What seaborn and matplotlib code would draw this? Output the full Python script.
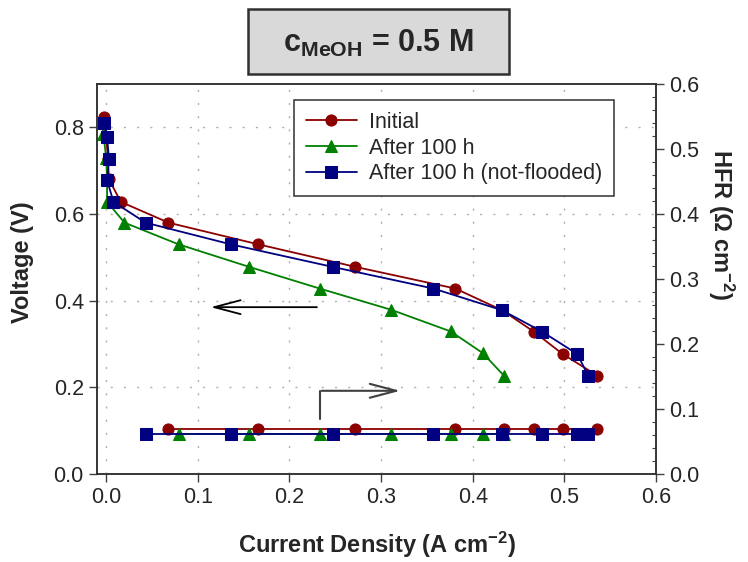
import matplotlib
matplotlib.use("Agg")
import matplotlib.pyplot as plt
import matplotlib.patches as patches
import seaborn as sns

# Polarization curves (left axis, V)
init_j = [-0.002, 0.002, 0.003, 0.016, 0.068, 0.166, 0.272, 0.381, 0.432, 0.467, 0.498, 0.536]
init_v = [0.825, 0.728, 0.680, 0.628, 0.580, 0.530, 0.478, 0.428, 0.378, 0.328, 0.277, 0.227]

aged_j = [-0.003, 0.000, 0.001, 0.001, 0.020, 0.079, 0.156, 0.233, 0.311, 0.376, 0.411, 0.434]
aged_v = [0.784, 0.730, 0.680, 0.628, 0.580, 0.530, 0.478, 0.428, 0.379, 0.329, 0.279, 0.227]

nf_j = [-0.002, 0.001, 0.003, 0.001, 0.008, 0.043, 0.136, 0.247, 0.357, 0.432, 0.476, 0.514, 0.526]
nf_v = [0.811, 0.778, 0.728, 0.678, 0.628, 0.580, 0.530, 0.478, 0.428, 0.378, 0.328, 0.277, 0.227]

# HFR (right axis, Ohm cm-2)
init_hfr_j = [0.068, 0.166, 0.271, 0.381, 0.434, 0.467, 0.498, 0.536]
init_hfr = [0.069, 0.069, 0.069, 0.069, 0.069, 0.069, 0.069, 0.069]
aged_hfr_j = [0.079, 0.156, 0.233, 0.311, 0.376, 0.411, 0.434]
aged_hfr = [0.062, 0.062, 0.062, 0.062, 0.062, 0.062, 0.062]
nf_hfr_j = [0.043, 0.136, 0.247, 0.357, 0.432, 0.476, 0.514, 0.526]
nf_hfr = [0.061, 0.061, 0.061, 0.061, 0.061, 0.061, 0.061, 0.061]

labels = ["Initial", "After 100 h", "After 100 h (not-flooded)"]
colors = ["#8b0000", "#008000", "#000080"]
markers = ["o", "^", "s"]

sns.set_style("ticks")
plt.rcParams["font.family"] = ["Liberation Sans", "DejaVu Sans"]
plt.rcParams["mathtext.fontset"] = "custom"
plt.rcParams["mathtext.rm"] = "Liberation Sans"
plt.rcParams["mathtext.bf"] = "Liberation Sans:bold"
plt.rcParams["mathtext.it"] = "Liberation Sans:italic"

fig = plt.figure(figsize=(7.48, 5.62), dpi=100)
ax = fig.add_axes([97 / 748, 1 - 474 / 562, 559 / 748, 390 / 562])
ax2 = ax.twinx()

grid_kw = dict(color="#b0b0b0", lw=1.0, ls=(0, (1.5, 8)), zorder=0)
for gx in [0.0, 0.1, 0.2, 0.3, 0.4, 0.5]:
    ax.axvline(gx, **grid_kw)
for gy in [0.2, 0.4, 0.6, 0.8]:
    ax.axhline(gy, **grid_kw)

volt = [(init_j, init_v), (aged_j, aged_v), (nf_j, nf_v)]
hfr = [(init_hfr_j, init_hfr), (aged_hfr_j, aged_hfr), (nf_hfr_j, nf_hfr)]
for (x, y), lab, c, m in zip(volt, labels, colors, markers):
    sns.lineplot(x=x, y=y, ax=ax, color=c, marker=m, markersize=8,
                 markeredgecolor=c, lw=1.3, sort=False, estimator=None, label=lab)
for (x, y), c, m in zip(hfr, colors, markers):
    sns.lineplot(x=x, y=y, ax=ax2, color=c, marker=m, markersize=8,
                 markeredgecolor=c, lw=1.3, sort=False, estimator=None)

ax.set_xlim(-0.01, 0.6)
ax.set_ylim(0, 0.9)
ax2.set_ylim(0, 0.6)
ax.set_xticks([0.0, 0.1, 0.2, 0.3, 0.4, 0.5, 0.6])
ax.set_yticks([0.0, 0.2, 0.4, 0.6, 0.8])
ax2.set_yticks([0.0, 0.1, 0.2, 0.3, 0.4, 0.5, 0.6])
ax2.set_yticks([i * 0.02 for i in range(31)], minor=True)
ax.set_xticklabels(["0.0", "0.1", "0.2", "0.3", "0.4", "0.5", "0.6"])
ax.set_yticklabels(["0.0", "0.2", "0.4", "0.6", "0.8"])
ax2.set_yticklabels(["0.0", "0.1", "0.2", "0.3", "0.4", "0.5", "0.6"])

ax.tick_params(axis="both", labelsize=15.5, length=6, width=1, color="#404040", direction="out")
ax2.tick_params(axis="y", which="major", labelsize=15.5, length=6, width=1, color="#404040", direction="out")
ax2.tick_params(axis="y", which="minor", length=3, width=0.8, color="#404040", direction="in")
for a in (ax, ax2):
    for sp in a.spines.values():
        sp.set_visible(True)
        sp.set_color("#303030")
        sp.set_linewidth(1.1)

ax.set_xlabel("Current Density (A cm$^{\\mathbf{-2}}$)", fontsize=17, fontweight="bold", va="center")
ax.set_ylabel("Voltage (V)", fontsize=17, fontweight="bold", va="center")
ax2.set_ylabel("HFR (\u03a9 cm$^{\\mathbf{-2}}$)", fontsize=17, fontweight="bold", rotation=270,
               va="center")
ax.xaxis.set_label_coords(0.5, -0.182)
ax.yaxis.set_label_coords(-0.134, 0.544)
ax2.yaxis.set_label_coords(1.117, 0.64)

# arrows pointing to the axes
ax.annotate("", xy=(0.111, 0.385), xytext=(0.233, 0.385),
            arrowprops=dict(arrowstyle="->,head_length=1.9,head_width=0.5", color="black", lw=1.3))
ax.plot([0.233, 0.233], [0.127, 0.192], color="#404040", lw=1.5)
ax.annotate("", xy=(0.324, 0.192), xytext=(0.232, 0.192),
            arrowprops=dict(arrowstyle="->,head_length=1.9,head_width=0.5", color="#404040", lw=1.5))

leg = ax.legend(loc="upper left", bbox_to_anchor=(0.352, 0.959), borderaxespad=0,
                fontsize=15.5, handlelength=2.4, handletextpad=0.55, labelspacing=0.22,
                borderpad=0.55, fancybox=False, framealpha=1, edgecolor="#303030")
leg.get_frame().set_linewidth(1.1)

# title box
fig.patches.append(patches.Rectangle((248 / 748, 1 - 74 / 562), 261 / 748, 65 / 562,
                                     transform=fig.transFigure, facecolor="#d9d9d9",
                                     edgecolor="#303030", lw=1.8))
fig.text(378.5 / 748, 1 - 43 / 562, "$\\mathbf{c_{MeOH}}$ = 0.5 M", fontsize=22,
         fontweight="bold", ha="center", va="center")

fig.savefig("out.png", dpi=100)
